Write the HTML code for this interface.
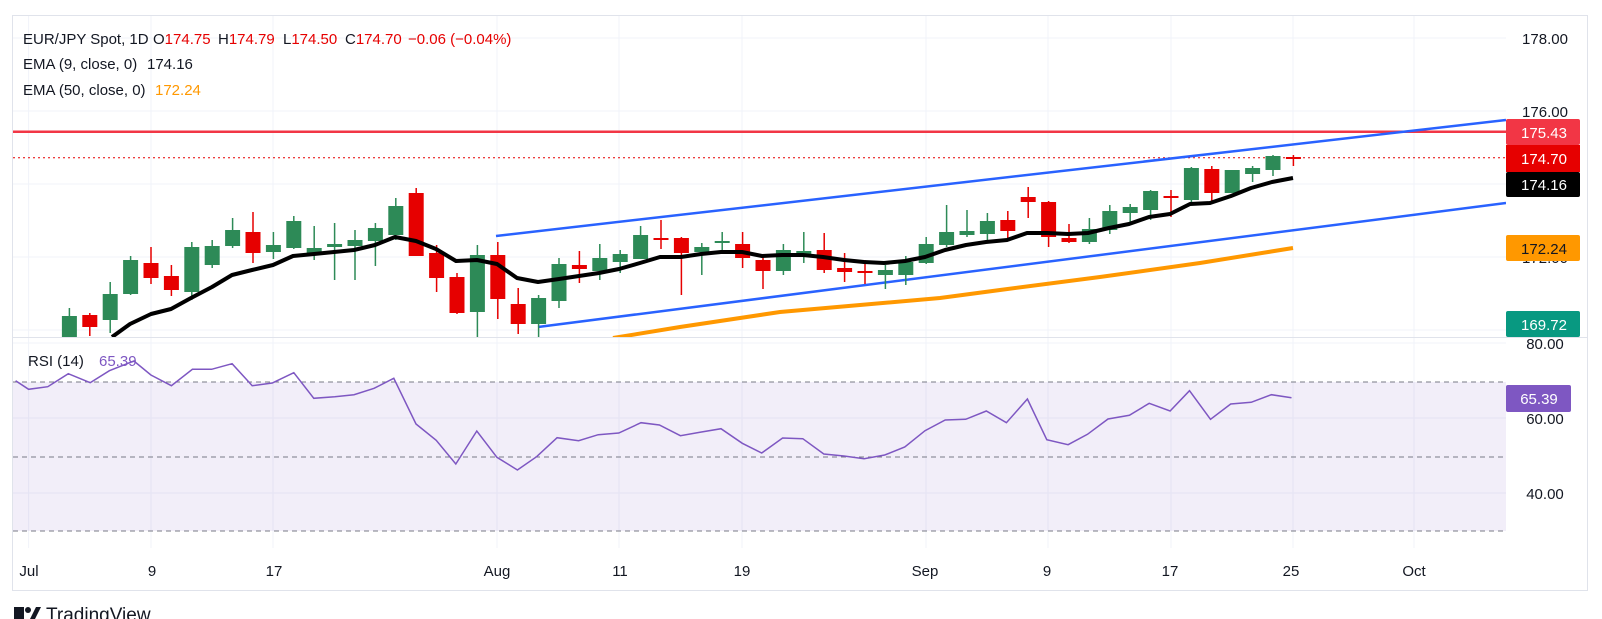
<!DOCTYPE html>
<html><head><meta charset="utf-8"><style>
html,body{margin:0;padding:0;background:#fff;}
svg{display:block;font-family:"Liberation Sans",Arial,sans-serif;}
</style></head><body>
<svg width="1602" height="619" viewBox="0 0 1602 619" xmlns="http://www.w3.org/2000/svg">
<defs>
<clipPath id="pp"><rect x="13" y="16" width="1493" height="321"/></clipPath>
<clipPath id="rp"><rect x="13" y="338" width="1493" height="210"/></clipPath>
</defs>
<rect x="12.5" y="15.5" width="1575" height="575" fill="#fff" stroke="#e0e3eb"/>
<g stroke="#f0f3fa" stroke-width="1">
<line x1="13" y1="38" x2="1506" y2="38"/><line x1="13" y1="111" x2="1506" y2="111"/>
<line x1="13" y1="184" x2="1506" y2="184"/><line x1="13" y1="257" x2="1506" y2="257"/>
<line x1="13" y1="330" x2="1506" y2="330"/>
<line x1="13" y1="343" x2="1506" y2="343"/><line x1="13" y1="418" x2="1506" y2="418"/><line x1="13" y1="493" x2="1506" y2="493"/>
<line x1="28.6" y1="16" x2="28.6" y2="548"/><line x1="151" y1="16" x2="151" y2="548"/>
<line x1="273" y1="16" x2="273" y2="548"/><line x1="497" y1="16" x2="497" y2="548"/>
<line x1="619" y1="16" x2="619" y2="548"/><line x1="742" y1="16" x2="742" y2="548"/>
<line x1="926" y1="16" x2="926" y2="548"/><line x1="1048" y1="16" x2="1048" y2="548"/>
<line x1="1171" y1="16" x2="1171" y2="548"/><line x1="1293" y1="16" x2="1293" y2="548"/>
<line x1="1414" y1="16" x2="1414" y2="548"/>
</g>
<line x1="13" y1="337.5" x2="1587" y2="337.5" stroke="#e0e3eb"/>
<rect x="13" y="382" width="1493" height="149" fill="#7e57c2" fill-opacity="0.1"/>
<g stroke="#787b86" stroke-dasharray="5,4" stroke-width="1">
<line x1="13" y1="382" x2="1506" y2="382"/><line x1="13" y1="457" x2="1506" y2="457"/><line x1="13" y1="531" x2="1506" y2="531"/>
</g>
<g clip-path="url(#pp)">
<line x1="13" y1="131.8" x2="1506" y2="131.8" stroke="#f23645" stroke-width="2.5"/>
<line x1="13" y1="157.7" x2="1506" y2="157.7" stroke="#e60000" stroke-width="1" stroke-dasharray="2,3"/>
<line x1="496" y1="236" x2="1506" y2="120" stroke="#2962ff" stroke-width="2.5"/>
<line x1="538" y1="327" x2="1506" y2="203" stroke="#2962ff" stroke-width="2.5"/>
<polyline fill="none" stroke="#ff9800" stroke-width="4" points="613,338 680,327 780,312 860,305 940,298 1000,290 1100,277 1200,263 1293,248"/>
<g stroke="#2d8a57" stroke-width="1.5" fill="none">
<path d="M69.4,308V340M110.2,282V333M130.6,256V295M191.8,242V300M212.2,240V268M232.6,218V248M273.4,232V259M293.8,216V249M314.2,226V260M334.6,223V280M355,230V280M375.4,223V266M395.8,198V240M477.4,245V340M538.6,295V340M559,258V308M599.8,244V280M620.2,250V273M640.6,226V259M701.8,243V275M722.2,232V254M783.4,244V275M803.8,232V263M885.4,265V289M905.8,256V285M926.2,237V264M946.6,205V247M967,210V237M987.4,213V240M1089.4,218V244M1109.8,205V234M1130.2,204V224M1150.6,190V220M1191.4,167V203M1232.2,170V193M1252.6,166V182M1273,155V176"/>
</g>
<g fill="#2d8a57">
<rect x="61.9" y="316" width="15" height="24"/><rect x="102.7" y="294" width="15" height="26"/><rect x="123.1" y="260" width="15" height="34"/><rect x="184.3" y="247" width="15" height="45"/><rect x="204.7" y="246" width="15" height="19"/><rect x="225.1" y="230" width="15" height="16"/><rect x="265.9" y="245" width="15" height="7"/><rect x="286.3" y="221" width="15" height="27"/><rect x="306.7" y="248" width="15" height="5"/><rect x="327.1" y="244" width="15" height="3"/><rect x="347.5" y="240" width="15" height="6"/><rect x="367.9" y="228" width="15" height="13"/><rect x="388.3" y="206" width="15" height="29"/><rect x="469.9" y="255" width="15" height="57"/><rect x="531.1" y="298" width="15" height="26"/><rect x="551.5" y="264" width="15" height="37"/><rect x="592.3" y="258" width="15" height="13"/><rect x="612.7" y="254" width="15" height="8"/><rect x="633.1" y="235" width="15" height="24"/><rect x="694.3" y="247" width="15" height="5"/><rect x="714.7" y="241" width="15" height="2"/><rect x="775.9" y="250" width="15" height="21"/><rect x="796.3" y="251" width="15" height="3"/><rect x="877.9" y="270" width="15" height="5"/><rect x="898.3" y="262" width="15" height="13"/><rect x="918.7" y="244" width="15" height="19"/><rect x="939.1" y="232" width="15" height="13"/><rect x="959.5" y="231" width="15" height="4"/><rect x="979.9" y="221" width="15" height="13"/><rect x="1081.9" y="229" width="15" height="13"/><rect x="1102.3" y="211" width="15" height="19"/><rect x="1122.7" y="207" width="15" height="6"/><rect x="1143.1" y="191" width="15" height="19"/><rect x="1183.9" y="168" width="15" height="32"/><rect x="1224.7" y="170" width="15" height="23"/><rect x="1245.1" y="168" width="15" height="6"/><rect x="1265.5" y="156" width="15" height="14"/>
</g>
<g stroke="#e60000" stroke-width="1.5" fill="none">
<path d="M89.8,313V336M151,247V284M171.4,265V296M253,212V263M416.2,188V256M436.6,245V292M457,273V314M497.8,242V319M518.2,288V334M579.4,251V283M661,220V249M681.4,237V295M742.6,232V268M763,256V289M824.2,233V273M844.6,253V282M865,260V284M1007.8,211V238M1028.2,187V218M1048.6,201V247M1069,224V243M1171,190V217M1211.8,166V203M1293.4,155V166"/>
</g>
<g fill="#e60000">
<rect x="82.3" y="315" width="15" height="12"/><rect x="143.5" y="263" width="15" height="15"/><rect x="163.9" y="276" width="15" height="14"/><rect x="245.5" y="232" width="15" height="21"/><rect x="408.7" y="193" width="15" height="63"/><rect x="429.1" y="253" width="15" height="25"/><rect x="449.5" y="277" width="15" height="36"/><rect x="490.3" y="255" width="15" height="44"/><rect x="510.7" y="304" width="15" height="20"/><rect x="571.9" y="265" width="15" height="4"/><rect x="653.5" y="238" width="15" height="2"/><rect x="673.9" y="238" width="15" height="15"/><rect x="735.1" y="244" width="15" height="14"/><rect x="755.5" y="260" width="15" height="11"/><rect x="816.7" y="250" width="15" height="20"/><rect x="837.1" y="268" width="15" height="4"/><rect x="857.5" y="271" width="15" height="2"/><rect x="1000.3" y="220" width="15" height="11"/><rect x="1020.7" y="197" width="15" height="5"/><rect x="1041.1" y="202" width="15" height="35"/><rect x="1061.5" y="238" width="15" height="4"/><rect x="1163.5" y="196" width="15" height="2"/><rect x="1204.3" y="169" width="15" height="24"/><rect x="1285.9" y="157" width="15" height="2"/>
</g>
<polyline fill="none" stroke="#000" stroke-width="4" stroke-linejoin="round" points="112,337 130,324 151,314 171,309 191,298 212,287 232,275 252,270 273,265 293,256 314,254 334,252 354,250 375,245 395,237 416,241 436,249 456,261 477,260 497,264 517,278 538,282 559,279 579,276 599,273 619,269 640,263 660,257 681,257 701,254 721,252 742,252 762,256 782,255 803,255 823,257 844,260 864,262 884,263 905,261 925,257 945,250 966,245 986,242 1007,240 1027,233 1047,233 1068,234 1088,233 1109,228 1129,224 1149,217 1170,214 1190,204 1210,203 1231,196 1251,188 1272,182 1293,178"/>
</g>
<g clip-path="url(#rp)">
<polyline fill="none" stroke="#7e57c2" stroke-width="1.5" points="15.6,380.7 28.6,389.3 47.8,386.7 68.3,373.7 90.2,382.7 109.4,370.7 133.9,361 150.9,375 171.4,385.7 192.4,369.3 211.6,369.3 232.1,363.7 252.2,385.7 272.3,383 293.8,372.7 313.8,398.3 334.8,396.7 354,394.7 374.1,388.3 393.8,378.3 416,424 436.2,440.3 455.8,464 476.8,431 496.9,457.3 517.4,470 536.6,456.7 557.1,437.7 578.6,440.7 598.2,434.7 618.8,433 641,422.7 659.4,425 680.4,435.7 700,432.3 721,428.7 742.3,443.3 761.7,453 782.6,438 802.8,438.7 823.8,454 843.9,456 864.1,458.7 884.7,455 904.8,447 925,430.7 945.2,420 965.7,419.3 986.3,411 1006.4,422.7 1027.4,399 1046.8,439.7 1068.1,444.7 1087.5,434.3 1108,419 1129.4,415.3 1149.2,403.3 1170.1,411 1189.5,390.7 1210.5,419.3 1230.7,404 1251.2,402.3 1271.4,394.7 1291.5,397.7"/>
</g>
<g font-size="15" fill="#131722">
<text x="23" y="44">EUR/JPY Spot, 1D</text>
<text x="153" y="44">O<tspan fill="#e60000">174.75</tspan></text>
<text x="218" y="44">H<tspan fill="#e60000">174.79</tspan></text>
<text x="283" y="44">L<tspan fill="#e60000">174.50</tspan></text>
<text x="345" y="44">C<tspan fill="#e60000">174.70</tspan></text>
<text x="408" y="44" fill="#e60000">−0.06 (−0.04%)</text>
<text x="23" y="69">EMA (9, close, 0)</text><text x="147" y="69">174.16</text>
<text x="23" y="95">EMA (50, close, 0)</text><text x="155" y="95" fill="#ff9800">172.24</text>
<text x="28" y="366">RSI (14)</text><text x="99" y="366" fill="#7e57c2">65.39</text>
</g>
<g font-size="15" fill="#131722" text-anchor="middle">
<text x="1545" y="44">178.00</text>
<text x="1545" y="117">176.00</text>
<text x="1545" y="263">172.00</text>
<text x="1545" y="349">80.00</text>
<text x="1545" y="424">60.00</text>
<text x="1545" y="499">40.00</text>
</g>
<rect x="1506" y="119" width="74" height="26" rx="2" fill="#f23645"/>
<rect x="1506" y="145" width="74" height="27" fill="#e60000"/>
<rect x="1506" y="172" width="74" height="25" rx="2" fill="#000"/>
<rect x="1506" y="235" width="74" height="26" rx="2" fill="#ff9800"/>
<rect x="1506" y="311" width="74" height="26" rx="2" fill="#089981"/>
<rect x="1506" y="385" width="65" height="27" rx="2" fill="#7e57c2"/>
<g font-size="15" text-anchor="middle">
<text x="1544" y="138" fill="#fff">175.43</text>
<text x="1544" y="164" fill="#fff">174.70</text>
<text x="1544" y="190" fill="#fff">174.16</text>
<text x="1544" y="254" fill="#131722">172.24</text>
<text x="1544" y="330" fill="#fff">169.72</text>
<text x="1539" y="404" fill="#fff">65.39</text>
</g>
<g font-size="15" fill="#131722" text-anchor="middle">
<text x="29" y="576">Jul</text><text x="152" y="576">9</text><text x="274" y="576">17</text>
<text x="497" y="576">Aug</text><text x="620" y="576">11</text><text x="742" y="576">19</text>
<text x="925" y="576">Sep</text><text x="1047" y="576">9</text><text x="1170" y="576">17</text>
<text x="1291" y="576">25</text><text x="1414" y="576">Oct</text>
</g>
<g fill="#131722">
<rect x="14" y="607" width="10" height="12"/><circle cx="28" cy="610" r="3"/><polygon points="30,619 36,607 41,607 35,619"/>
<text x="46" y="621" font-size="19">TradingView</text>
</g>
</svg>
</body></html>
